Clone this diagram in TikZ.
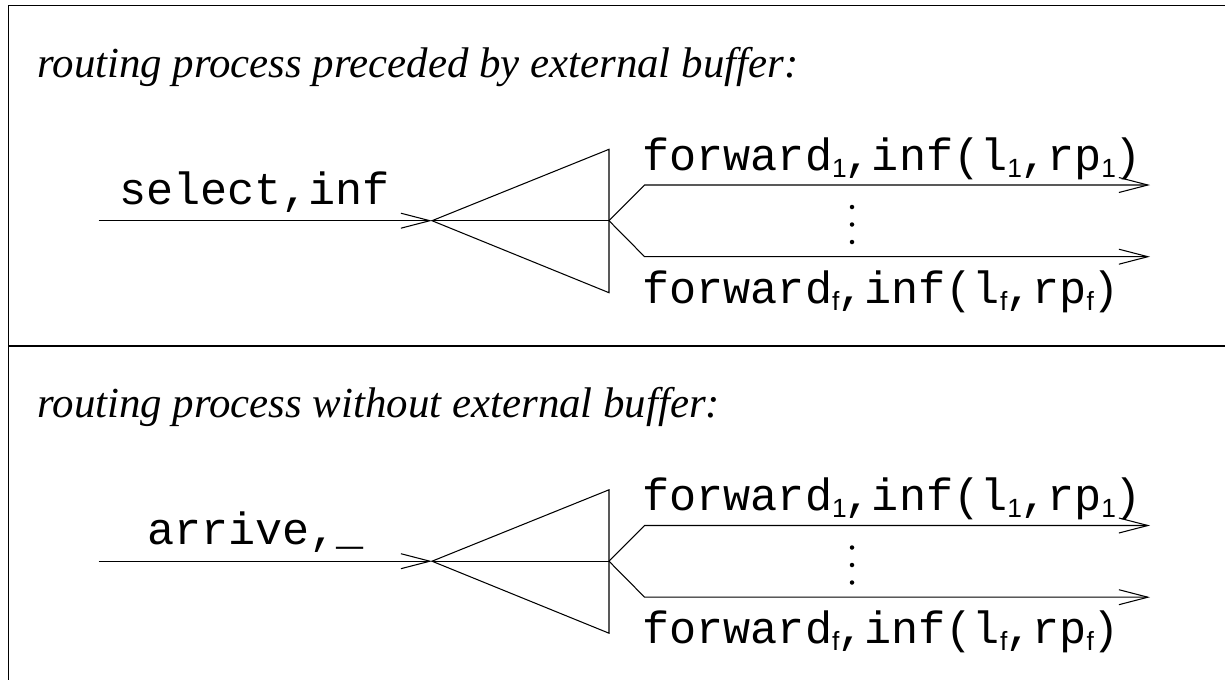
\documentclass[tikz,border=0pt]{standalone}
\usepackage{fontspec}
\setmainfont{Liberation Serif}
\setmonofont{Liberation Mono}
\newfontfamily\subfont{Liberation Sans}
\usetikzlibrary{arrows.meta}

\newcommand\lowsub[1]{\raisebox{-0.14cm}{\subfont\fontsize{15}{17}\selectfont #1}\kern-0.04cm}

\begin{document}
\begin{tikzpicture}[x=0.02cm,y=-0.02cm,line width=0.6pt,
title/.style={anchor=base west,inner sep=0pt,font=\fontsize{24.4}{29}\selectfont\itshape},
msg/.style={inner sep=0pt,font=\fontsize{25.7}{30}\selectfont\ttfamily},
wire/.style={-{Straight Barb[length=0.58cm,width=0.3cm]}},
dot/.style={fill,circle,inner sep=0pt,minimum size=0.09cm}]

\useasboundingbox (0,0) rectangle (1225,680);

% frame
\coordinate (tl) at (8.5,5.7);
\coordinate (tr) at (1225,5.7);
\coordinate (bl) at (8.5,680);
\coordinate (ml) at (8.5,346);
\coordinate (mr) at (1225,346);
\draw (tr) -- (tl) -- (bl);
\draw (ml) -- (mr);

% with buffer
\node[title] (T1) at (37,77) {routing process preceded by external buffer:};
\coordinate (in1) at (98.6,220.7);
\coordinate (apex1) at (432,220.7);
\coordinate (split1) at (609,220.7);
\coordinate (top1) at (609,149.3);
\coordinate (bot1) at (609,292.7);
\coordinate (k1a) at (644.6,185);
\coordinate (k1b) at (644.6,256.7);
\coordinate (out1a) at (1150,185);
\coordinate (out1b) at (1150,256.7);
\draw[wire] (in1) -- (apex1);
\draw (apex1) -- (top1) -- (bot1) -- cycle;
\draw (apex1) -- (split1);
\draw[wire] (split1) -- (k1a) -- (out1a);
\draw[wire] (split1) -- (k1b) -- (out1b);
\node[msg,anchor=base] (M1) at (254.6,204) {select,inf};
\node[msg,anchor=base west] (F1a) at (642,170) {forward\lowsub{1},inf(l\lowsub{1},rp\lowsub{1})};
\node[msg,anchor=base west] (F1b) at (642,303) {forward\lowsub{f},inf(l\lowsub{f},rp\lowsub{f})};
\node[dot] (d1a) at (852,207) {};
\node[dot] (d1b) at (852,224.5) {};
\node[dot] (d1c) at (852,242) {};

% without buffer
\node[title] (T2) at (37,417.5) {routing process without external buffer:};
\coordinate (in2) at (98.6,561.2);
\coordinate (apex2) at (432,561.2);
\coordinate (split2) at (609,561.2);
\coordinate (top2) at (609,489.8);
\coordinate (bot2) at (609,633.2);
\coordinate (k2a) at (644.6,525.5);
\coordinate (k2b) at (644.6,597.2);
\coordinate (out2a) at (1150,525.5);
\coordinate (out2b) at (1150,597.2);
\draw[wire] (in2) -- (apex2);
\draw (apex2) -- (top2) -- (bot2) -- cycle;
\draw (apex2) -- (split2);
\draw[wire] (split2) -- (k2a) -- (out2a);
\draw[wire] (split2) -- (k2b) -- (out2b);
\node[msg,anchor=base] (M2) at (255.5,544.5) {arrive,\_};
\node[msg,anchor=base west] (F2a) at (642,510.5) {forward\lowsub{1},inf(l\lowsub{1},rp\lowsub{1})};
\node[msg,anchor=base west] (F2b) at (642,643.5) {forward\lowsub{f},inf(l\lowsub{f},rp\lowsub{f})};
\node[dot] (d2a) at (852,547.5) {};
\node[dot] (d2b) at (852,565) {};
\node[dot] (d2c) at (852,582.5) {};

\end{tikzpicture}
\end{document}
